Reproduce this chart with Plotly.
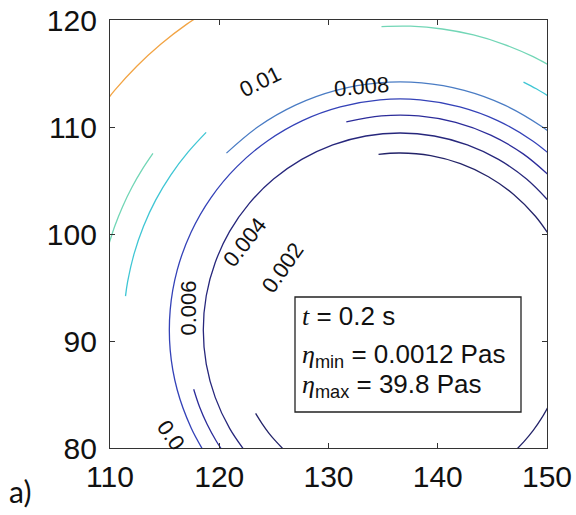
import plotly.graph_objects as go

# ---- contour lines (data coordinates) ----
orange_x = [108.62, 110.44, 112.45, 114.64, 117.00, 119.50]
orange_y = [111.03, 113.44, 115.68, 117.73, 119.59, 121.22]

aqua_left_x = [113.93, 112.98, 112.01, 111.16, 110.44, 109.84]
aqua_left_y = [107.53, 106.08, 104.37, 102.58, 100.75, 98.86]
aqua_top_x = [134.85, 137.52, 140.42, 143.27, 146.05, 148.73, 151.28]
aqua_top_y = [119.39, 119.42, 119.16, 118.60, 117.73, 116.57, 115.12]

cyan_left_x = [118.80, 117.16, 115.56, 114.19, 113.07, 112.21, 111.61, 111.42]
cyan_left_y = [109.50, 107.67, 105.51, 103.19, 100.73, 98.17, 95.52, 94.19]
cyan_right_x = [147.85, 149.02, 150.34]
cyan_right_y = [114.20, 113.57, 112.74]

c008_x = [120.66, 123.55, 126.97, 130.68, 134.57, 138.53, 142.42, 146.13, 149.55, 151.12]
c008_y = [107.56, 110.02, 112.04, 113.42, 114.12, 114.12, 113.42, 112.04, 110.02, 108.79]

c006_x = [150.68, 148.66, 145.48, 142.02, 138.39, 134.71, 131.08, 127.62, 124.44,
          121.62, 119.25, 117.41, 116.15, 115.51, 115.51, 116.15, 117.41, 118.64]
c006_y = [107.07, 108.72, 110.60, 111.88, 112.54, 112.54, 111.88, 110.60, 108.72,
          106.30, 103.41, 100.15, 96.62, 92.91, 89.15, 85.44, 81.91, 79.59]

c005_top_x = [131.63, 134.84, 138.26, 141.64, 144.85, 147.82, 150.44]
c005_top_y = [110.48, 111.04, 111.04, 110.43, 109.24, 107.49, 105.24]
c005_bot_x = [117.66, 118.20, 118.89, 119.71, 120.45]
c005_bot_y = [85.49, 83.83, 82.22, 80.68, 79.51]

c004_x = [150.35, 148.13, 145.56, 142.71, 139.68, 136.55, 133.42, 130.39, 127.55, 124.97,
          122.75, 120.95, 119.63, 118.81, 118.54, 118.81, 119.63, 120.95, 122.55]
c004_y = [102.86, 105.13, 106.97, 108.33, 109.16, 109.44, 109.16, 108.33, 106.97, 105.13,
          102.86, 100.24, 97.33, 94.23, 91.03, 87.83, 84.73, 81.83, 79.44]

c003_top_x = [134.58, 136.55, 139.36, 142.08, 144.64, 146.95, 148.94, 150.42]
c003_top_y = [107.45, 107.57, 107.32, 106.57, 105.35, 103.70, 101.66, 99.55]

c002_bl_x = [123.33, 123.90, 124.52, 125.21, 125.95]
c002_bl_y = [83.23, 82.30, 81.42, 80.59, 79.80]
c002_br_x = [146.96, 147.89, 148.74, 149.49, 150.15]
c002_br_y = [79.61, 80.59, 81.64, 82.76, 83.94]

# contour labels: text, x, y, angle
label_text = ["0.01", "0.008", "0.006", "0.004", "0.002", "0.0"]
label_x = [123.76, 133.05, 117.18, 122.29, 125.81, 115.62]
label_y = [114.21, 113.77, 93.08, 99.25, 96.87, 81.21]
label_angle = [-26, -5, -90, -52, -55, 55]

x_ticks = [110, 120, 130, 140, 150]
y_ticks = [80, 90, 100, 110, 120]

# ---- styling ----
segments = [
    (orange_x, orange_y, "#f2a444"),
    (aqua_left_x, aqua_left_y, "#72d6b6"),
    (aqua_top_x, aqua_top_y, "#72d6b6"),
    (cyan_left_x, cyan_left_y, "#3fc6d4"),
    (cyan_right_x, cyan_right_y, "#3fc6d4"),
    (c008_x, c008_y, "#4a7cc4"),
    (c006_x, c006_y, "#3442b8"),
    (c005_top_x, c005_top_y, "#2c2c9a"),
    (c005_bot_x, c005_bot_y, "#2c2c9a"),
    (c004_x, c004_y, "#27277c"),
    (c003_top_x, c003_top_y, "#232368"),
    (c002_bl_x, c002_bl_y, "#232368"),
    (c002_br_x, c002_br_y, "#232368"),
]

W, H = 576, 515
PL, PT, PR, PB = 110, 20, 547, 448          # plot area in page pixels
L, T, R, B = PL, PT, W - PR, H - PB
PW, PH = PR - PL, PB - PT


def px(x):
    return (x - PL) / PW


def py(y):
    return (PB - y) / PH


fig = go.Figure()
for xs, ys, col in segments:
    fig.add_trace(go.Scatter(x=xs, y=ys, mode="lines",
                             line=dict(color=col, width=1.3, shape="spline"),
                             hoverinfo="skip", showlegend=False))

ann = []
for t, x, y, a in zip(label_text, label_x, label_y, label_angle):
    ann.append(dict(x=x, y=y, xref="x", yref="y", text=t, showarrow=False,
                    textangle=a, font=dict(family="Liberation Sans, Arial", size=22, color="#111")))

serif = "font-family:'Liberation Serif', 'Times New Roman', serif"
box_lines = [
    (f"<span style=\"{serif}\"><i>t</i></span> = 0.2 s", 316),
    (f"<span style=\"{serif}\"><i>η</i></span><sub>min</sub> = 0.0012 Pas", 355),
    (f"<span style=\"{serif}\"><i>η</i></span><sub>max</sub> = 39.8 Pas", 385),
]
for txt, yy in box_lines:
    ann.append(dict(x=px(300), y=py(yy), xref="paper", yref="paper",
                    xanchor="left", yanchor="middle", text=txt, showarrow=False,
                    font=dict(family="Liberation Sans, Arial", size=26, color="#111")))

ann.append(dict(x=px(7), y=py(491), xref="paper", yref="paper",
                xanchor="left", yanchor="middle", text="a)", showarrow=False,
                font=dict(family="Lato, Open Sans", size=30, color="#111")))

fig.update_layout(
    width=W, height=H,
    margin=dict(l=L, r=R, t=T, b=B, autoexpand=False),
    paper_bgcolor="white", plot_bgcolor="white",
    annotations=ann,
    shapes=[dict(type="rect", xref="paper", yref="paper",
                 x0=px(295), x1=px(521), y0=py(412), y1=py(297),
                 line=dict(color="#222", width=1.3), fillcolor="rgba(0,0,0,0)")],
)
axis_common = dict(showline=True, linecolor="#333", linewidth=1.2, mirror="ticks",
                   ticks="inside", ticklen=5, tickcolor="#333", showgrid=False,
                   zeroline=False, automargin=False, ticklabeloverflow="allow",
                   tickfont=dict(family="Liberation Sans, Arial", size=30, color="#111"))
fig.update_xaxes(range=[110, 150], tickvals=x_ticks, ticktext=[str(v) for v in x_ticks],
                 ticklabelstandoff=2, **axis_common)
fig.update_yaxes(range=[80, 120], tickvals=y_ticks, ticktext=[str(v) for v in y_ticks],
                 ticklabelstandoff=6, **axis_common)

# remove the browser's default 8 px body margin so the figure sits at the page corner
fig.write_html("out.html", config={"displayModeBar": False},
               post_script="document.body.style.margin='0px';")
